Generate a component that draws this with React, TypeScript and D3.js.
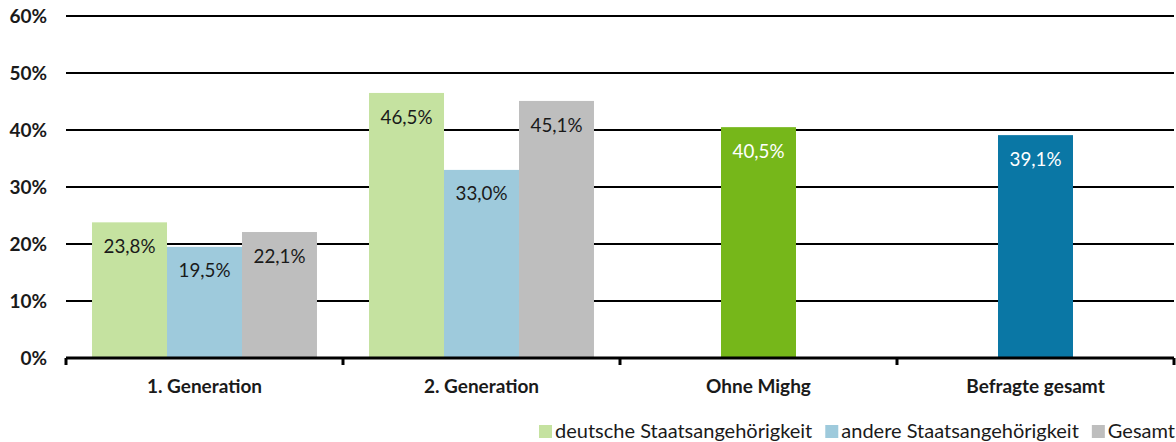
import { useEffect, useRef } from "react";
import * as d3 from "d3";

const categories = ["1. Generation", "2. Generation", "Ohne Mighg", "Befragte gesamt"];
const seriesNames = ["deutsche Staatsangehörigkeit", "andere Staatsangehörigkeit", "Gesamt"];
const deutsche = [23.8, 46.5, null, null];
const andere = [19.5, 33.0, null, null];
const gesamt = [22.1, 45.1, null, null];
const einzeln = [null, null, 40.5, 39.1];
const yTicks = [0, 10, 20, 30, 40, 50, 60];

const seriesColors = ["#c5e2a0", "#9ecadc", "#bebebe"];
const singleColors = ["#76b71a", "#0a77a5"];

const W = 1176;
const H = 442;
const FONT = "Lato, 'Open Sans', sans-serif";

const fmt = (v: number) => `${v.toFixed(1).replace(".", ",")}%`;

const App = () => {
  const svgRef = useRef<SVGSVGElement | null>(null);

  useEffect(() => {
    const svg = d3.select(svgRef.current);
    svg.selectAll("*").remove();

    const margin = { top: 16, right: 2, bottom: 84, left: 66 };
    const innerWidth = W - margin.left - margin.right;
    const innerHeight = H - margin.top - margin.bottom;

    const g = svg
      .append("g")
      .attr("transform", `translate(${margin.left},${margin.top})`);

    const x0 = d3.scaleBand<string>().domain(categories).range([0, innerWidth]).padding(0);
    const x1 = d3
      .scaleBand<number>()
      .domain([0, 1, 2])
      .range([0, x0.bandwidth()])
      .paddingInner(0)
      .paddingOuter(0.347);
    const y = d3.scaleLinear().domain([0, 60]).range([innerHeight, 0]);

    // gridlines
    g.selectAll(".grid")
      .data(yTicks.filter((t) => t > 0))
      .join("line")
      .attr("x1", 0)
      .attr("x2", innerWidth)
      .attr("y1", (d) => y(d))
      .attr("y2", (d) => y(d))
      .attr("stroke", "#000")
      .attr("stroke-width", 2.2);

    g.selectAll(".ylab")
      .data(yTicks)
      .join("text")
      .attr("x", -19)
      .attr("y", (d) => y(d))
      .attr("dy", "0.35em")
      .attr("text-anchor", "end")
      .attr("font-family", FONT)
      .attr("font-weight", 700)
      .attr("font-size", 19)
      .attr("fill", "#1a1a1a")
      .text((d) => `${d}%`);

    const allSeries = [deutsche, andere, gesamt];
    type Bar = { cat: string; idx: number; value: number; color: string; single: boolean; dark: boolean };
    const bars: Bar[] = [];
    categories.forEach((cat, ci) => {
      allSeries.forEach((s, si) => {
        const v = s[ci];
        if (v != null) bars.push({ cat, idx: si, value: v, color: seriesColors[si], single: false, dark: false });
      });
      const sv = einzeln[ci];
      if (sv != null) {
        bars.push({ cat, idx: 1, value: sv, color: singleColors[ci - 2], single: true, dark: true });
      }
    });

    const barX = (b: Bar) =>
      b.single
        ? (x0(b.cat) ?? 0) + x0.bandwidth() / 2 - x1.bandwidth() / 2
        : (x0(b.cat) ?? 0) + (x1(b.idx) ?? 0);

    g.selectAll(".bar")
      .data(bars)
      .join("rect")
      .attr("x", (d) => barX(d))
      .attr("y", (d) => y(d.value))
      .attr("width", x1.bandwidth())
      .attr("height", (d) => innerHeight - y(d.value))
      .attr("fill", (d) => d.color);

    g.selectAll(".val")
      .data(bars)
      .join("text")
      .attr("x", (d) => barX(d) + x1.bandwidth() / 2)
      .attr("y", (d) => y(d.value) + 24)
      .attr("dy", "0.35em")
      .attr("text-anchor", "middle")
      .attr("font-family", FONT)
      .attr("font-size", 18.8)
      .attr("fill", (d) => (d.dark ? "#fff" : "#1a1a1a"))
      .text((d) => fmt(d.value));

    // x axis
    g.append("line")
      .attr("x1", 0)
      .attr("x2", innerWidth)
      .attr("y1", innerHeight)
      .attr("y2", innerHeight)
      .attr("stroke", "#000")
      .attr("stroke-width", 3);

    const boundaries = categories.map((c) => x0(c) ?? 0).concat([innerWidth]);
    g.selectAll(".xtick")
      .data(boundaries)
      .join("line")
      .attr("x1", (d) => d)
      .attr("x2", (d) => d)
      .attr("y1", innerHeight)
      .attr("y2", innerHeight + 7)
      .attr("stroke", "#000")
      .attr("stroke-width", 3);

    g.selectAll(".xlab")
      .data(categories)
      .join("text")
      .attr("x", (d) => (x0(d) ?? 0) + x0.bandwidth() / 2)
      .attr("y", innerHeight + 28)
      .attr("dy", "0.35em")
      .attr("text-anchor", "middle")
      .attr("font-family", FONT)
      .attr("font-weight", 700)
      .attr("font-size", 19)
      .attr("fill", "#1a1a1a")
      .text((d) => d);

    // legend
    const legend = svg.append("g").attr("transform", `translate(539,431)`);
    let lx = 0;
    seriesNames.forEach((name, i) => {
      legend
        .append("rect")
        .attr("x", lx)
        .attr("y", -6)
        .attr("width", 13)
        .attr("height", 13)
        .attr("fill", seriesColors[i]);
      const t = legend
        .append("text")
        .attr("x", lx + 16)
        .attr("y", 0)
        .attr("dy", "0.35em")
        .attr("font-family", FONT)
        .attr("font-size", 20)
        .attr("fill", "#1a1a1a")
        .text(name);
      const w = (t.node() as SVGTextElement).getComputedTextLength();
      lx += 16 + w + 13;
    });
  }, []);

  return (
    <svg
      ref={svgRef}
      width={W}
      height={H}
      style={{ position: "absolute", left: 0, top: 0, background: "#fff" }}
    />
  );
};

export default App;
